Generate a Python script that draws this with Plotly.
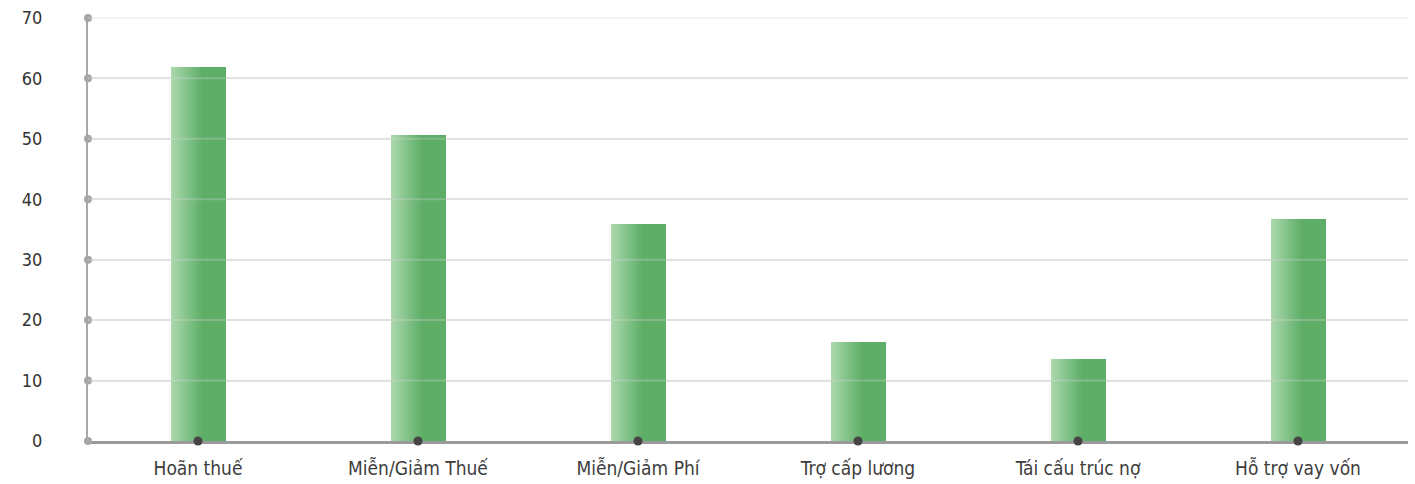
import plotly.graph_objects as go

categories = ["Hoãn thuế", "Miễn/Giảm Thuế", "Miễn/Giảm Phí", "Trợ cấp lương", "Tái cấu trúc nợ", "Hỗ trợ vay vốn"]
values = [61.9, 50.6, 35.9, 16.4, 13.6, 36.7]
y_ticks = [0, 10, 20, 30, 40, 50, 60, 70]

FONT = "Liberation Sans Narrow, DejaVu Sans Condensed, Arial Narrow, sans-serif"
xs = list(range(len(categories)))

fig = go.Figure()

# gradient bars: layered slices, each extends to the right edge
bar_w = 0.25
n_steps = 16
grad_frac = 0.55
c0 = (170, 215, 172)
c1 = (94, 174, 104)
for i in range(n_steps):
    t = i / (n_steps - 1)
    col = tuple(round(a + (b - a) * t) for a, b in zip(c0, c1))
    start = -bar_w / 2 + bar_w * grad_frac * t
    fig.add_trace(go.Bar(
        x=xs, y=values,
        width=[bar_w / 2 - start] * len(xs),
        offset=[start] * len(xs),
        marker=dict(color="rgb(%d,%d,%d)" % col, line=dict(width=0)),
        hoverinfo="skip", showlegend=False,
    ))

# y axis tick dots
fig.add_trace(go.Scatter(
    x=[-0.5] * len(y_ticks), y=y_ticks, mode="markers",
    marker=dict(color="#a6a6a6", size=8), cliponaxis=False,
    hoverinfo="skip", showlegend=False,
))
# baseline category dots
fig.add_trace(go.Scatter(
    x=xs, y=[0] * len(xs), mode="markers",
    marker=dict(color="#444444", size=9), cliponaxis=False,
    hoverinfo="skip", showlegend=False,
))

shapes = []
for v in y_ticks[1:]:
    shapes.append(dict(type="line", xref="paper", yref="y", x0=0, x1=1, y0=v, y1=v,
                       line=dict(color="rgba(215,215,215,0.3)", width=2), layer="above"))

fig.update_layout(
    width=1415, height=484,
    margin=dict(l=88, r=7, t=17, b=43, autoexpand=False),
    paper_bgcolor="white", plot_bgcolor="white",
    barmode="overlay", bargap=0,
    shapes=shapes,
    font=dict(family=FONT, color="#333333"),
    xaxis=dict(
        range=[-0.5, 5.5], tickmode="array", tickvals=xs, ticktext=categories,
        showgrid=False, zeroline=False, showline=True, linecolor="#9a9a9a", linewidth=3,
        ticks="", tickfont=dict(size=19, color="#3d3d3d", family=FONT),
        ticklabelstandoff=8, layer="below traces", automargin=False,
    ),
    yaxis=dict(
        range=[0, 70.15], tickmode="array", tickvals=y_ticks,
        showgrid=True, gridcolor="#e6e6e6", gridwidth=2,
        zeroline=False, showline=True, linecolor="#a8a8a8", linewidth=2,
        ticks="", tickfont=dict(size=18, color="#333333", family=FONT),
        ticklabelstandoff=40, layer="below traces", automargin=False,
    ),
)

fig.write_html("out.html")
